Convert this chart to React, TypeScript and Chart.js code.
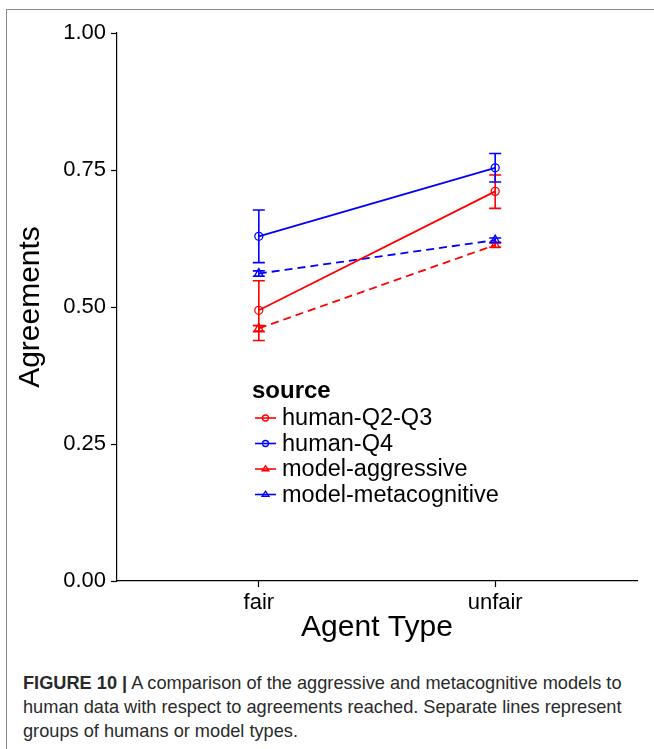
import { useEffect, useRef } from 'react';
import { Chart, registerables } from 'chart.js';

Chart.register(...registerables);

const categories = ['fair', 'unfair'];
const seriesNames = ['human-Q2-Q3', 'human-Q4', 'model-aggressive', 'model-metacognitive'];

const humanQ2Q3 = [0.494, 0.711];
const humanQ2Q3Low = [0.439, 0.68];
const humanQ2Q3High = [0.548, 0.741];

const humanQ4 = [0.629, 0.754];
const humanQ4Low = [0.581, 0.728];
const humanQ4High = [0.677, 0.78];

const modelAggressive = [0.461, 0.613];
const modelAggressiveLow = [0.455, 0.609];
const modelAggressiveHigh = [0.466, 0.617];

const modelMeta = [0.561, 0.622];
const modelMetaLow = [0.556, 0.618];
const modelMetaHigh = [0.566, 0.626];

const yTickValues = [0, 0.25, 0.5, 0.75, 1];

const FONT = '"Liberation Sans", Arial, Helvetica, sans-serif';
const RED = '#ff0000';
const BLUE = '#0000ff';

function drawMarker(ctx: CanvasRenderingContext2D, style: string, x: number, y: number, r: number, color: string) {
  ctx.save();
  ctx.setLineDash([]);
  ctx.strokeStyle = color;
  ctx.lineWidth = 1.3;
  ctx.beginPath();
  if (style === 'circle') {
    ctx.arc(x, y, r, 0, Math.PI * 2);
  } else {
    const h = r * 1.7;
    ctx.moveTo(x, y - h * 0.66);
    ctx.lineTo(x + r * 1.15, y + h * 0.34);
    ctx.lineTo(x - r * 1.15, y + h * 0.34);
    ctx.closePath();
  }
  ctx.stroke();
  ctx.restore();
}

const errorBarPlugin = {
  id: 'errorBars',
  afterDatasetsDraw(chart: any) {
    const { ctx, scales } = chart;
    const xs = scales.x;
    const ys = scales.y;
    chart.data.datasets.forEach((ds: any) => {
      ctx.save();
      ctx.strokeStyle = ds.borderColor;
      ctx.lineWidth = 1.6;
      ctx.setLineDash([]);
      ds.data.forEach((p: any, i: number) => {
        const px = xs.getPixelForValue(p.x);
        const y1 = ys.getPixelForValue(ds.errLow[i]);
        const y2 = ys.getPixelForValue(ds.errHigh[i]);
        ctx.beginPath();
        ctx.moveTo(px, y1);
        ctx.lineTo(px, y2);
        ctx.moveTo(px - 6, y1);
        ctx.lineTo(px + 6, y1);
        ctx.moveTo(px - 6, y2);
        ctx.lineTo(px + 6, y2);
        ctx.stroke();
      });
      ctx.restore();
    });
  },
};

const legendPlugin = {
  id: 'customLegend',
  afterDraw(chart: any) {
    const { ctx, chartArea } = chart;
    const left = chartArea.left + 135;
    const top = chartArea.top + 358;
    ctx.save();
    ctx.fillStyle = '#000';
    ctx.textBaseline = 'middle';
    ctx.textAlign = 'left';
    ctx.font = `bold 24px ${FONT}`;
    ctx.fillText('source', left, top);
    ctx.font = `23.5px ${FONT}`;
    chart.data.datasets.forEach((ds: any, i: number) => {
      const cy = top + 27 + i * 25.5;
      ctx.strokeStyle = ds.borderColor;
      ctx.lineWidth = 1.6;
      ctx.setLineDash([]);
      ctx.beginPath();
      ctx.moveTo(left + 3, cy);
      ctx.lineTo(left + 24, cy);
      ctx.stroke();
      drawMarker(ctx, ds.pointStyle, left + 13.5, cy, 3, ds.borderColor);
      ctx.fillStyle = '#000';
      ctx.fillText(ds.label, left + 30, cy + 1);
    });
    ctx.restore();
  },
};

function makeData(vals: number[]) {
  return categories.map((_, i) => ({ x: i + 1, y: vals[i] }));
}

export default function App() {
  const ref = useRef<HTMLCanvasElement>(null);
  useEffect(() => {
    if (!ref.current) return;
    const common = {
      borderWidth: 1.8,
      pointRadius: 4,
      pointBorderWidth: 1.3,
      pointBackgroundColor: 'rgba(0,0,0,0)',
      tension: 0,
    };
    const chart = new Chart(ref.current, {
      type: 'line',
      data: {
        datasets: [
          { ...common, label: seriesNames[0], data: makeData(humanQ2Q3), errLow: humanQ2Q3Low, errHigh: humanQ2Q3High, borderColor: RED, pointBorderColor: RED, pointStyle: 'circle' } as any,
          { ...common, label: seriesNames[1], data: makeData(humanQ4), errLow: humanQ4Low, errHigh: humanQ4High, borderColor: BLUE, pointBorderColor: BLUE, pointStyle: 'circle' } as any,
          { ...common, label: seriesNames[2], data: makeData(modelAggressive), errLow: modelAggressiveLow, errHigh: modelAggressiveHigh, borderColor: RED, pointBorderColor: RED, pointStyle: 'triangle', pointRadius: 5, borderDash: [8, 5] } as any,
          { ...common, label: seriesNames[3], data: makeData(modelMeta), errLow: modelMetaLow, errHigh: modelMetaHigh, borderColor: BLUE, pointBorderColor: BLUE, pointStyle: 'triangle', pointRadius: 5, borderDash: [8, 5] } as any,
        ],
      },
      options: {
        responsive: false,
        animation: false,
        devicePixelRatio: 1,
        layout: { padding: { top: 33, right: 17, left: 0, bottom: 0 } },
        plugins: { legend: { display: false }, tooltip: { enabled: false } },
        scales: {
          x: {
            type: 'linear',
            min: 0.4,
            max: 2.6,
            afterBuildTicks: (scale: any) => {
              scale.ticks = categories.map((_, i) => ({ value: i + 1 }));
            },
            afterFit: (scale: any) => {
              scale.height = 69;
            },
            ticks: {
              autoSkip: false,
              maxRotation: 0,
              padding: 3,
              color: '#000',
              font: { family: FONT, size: 22 },
              callback: (v: any) => categories[Number(v) - 1] ?? '',
            },
            grid: { display: true, drawOnChartArea: false, drawTicks: true, tickLength: 6, tickColor: '#000', tickWidth: 1.2 },
            border: { display: true, color: '#000', width: 1.2 },
            title: { display: true, text: 'Agent Type', color: '#000', font: { family: FONT, size: 30 }, padding: { top: 0, bottom: 4 } },
          },
          y: {
            type: 'linear',
            min: 0,
            max: 1,
            afterBuildTicks: (scale: any) => {
              scale.ticks = yTickValues.map((v) => ({ value: v }));
            },
            afterFit: (scale: any) => {
              scale.width = 117;
            },
            ticks: {
              autoSkip: false,
              padding: 5,
              color: '#000',
              font: { family: FONT, size: 22 },
              callback: (v: any) => Number(v).toFixed(2),
            },
            grid: { display: true, drawOnChartArea: false, drawTicks: true, tickLength: 6, tickColor: '#000', tickWidth: 1.2 },
            border: { display: true, color: '#000', width: 1.2 },
            title: { display: true, text: 'Agreements', color: '#000', font: { family: FONT, size: 30 }, padding: { top: 13, bottom: 0 } },
          },
        },
      } as any,
      plugins: [errorBarPlugin, legendPlugin],
    });
    return () => chart.destroy();
  }, []);

  return (
    <div style={{ position: 'fixed', left: 0, top: 0, width: 654, height: 749, background: '#fff', overflow: 'hidden' }}>
      <div style={{ position: 'absolute', left: 6, top: 9, width: 700, height: 800, border: '1.5px solid #8a8a8a', boxSizing: 'border-box' }} />
      <canvas ref={ref} width={654} height={650} style={{ position: 'absolute', left: 0, top: 0, width: 654, height: 650 }} />
      <div
        style={{
          position: 'absolute',
          left: 23,
          top: 671,
          fontFamily: FONT,
          fontSize: 18.2,
          lineHeight: '24px',
          color: '#2a2a2a',
          whiteSpace: 'nowrap',
        }}
      >
        <b>FIGURE 10 |</b> A comparison of the aggressive and metacognitive models to
        <br />
        human data with respect to agreements reached. Separate lines represent
        <br />
        groups of humans or model types.
      </div>
    </div>
  );
}
